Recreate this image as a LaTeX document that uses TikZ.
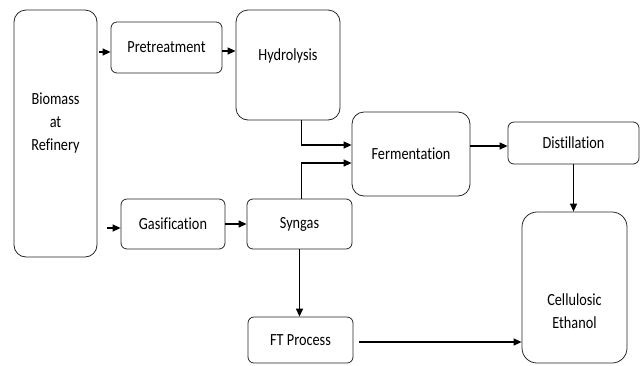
\documentclass[tikz,border=0pt]{standalone}
\usepackage{fontspec}
\setmainfont{Carlito}[FakeStretch=0.84,Ligatures=NoCommon]
\usetikzlibrary{arrows.meta}
\begin{document}
\begin{tikzpicture}[x=1pt,y=-1pt,
  every node/.style={font=\fontsize{17}{23}\selectfont,align=center,inner sep=0pt},
  stage/.style={draw=black!85,line width=0.8pt,rounded corners=6pt},
  tall/.style={stage,rounded corners=12pt},
  arr/.style={line width=1.3pt,-{Triangle[length=8pt,width=7pt]}}]
  \useasboundingbox (0,0) rectangle (644,365);
  % process boxes
  \node[tall,minimum width=83pt,minimum height=247pt] (bio) at (55.5,133.5) {};
  \node at (55.5,123) {Biomass\\at\\Refinery};
  \node[stage,minimum width=111pt,minimum height=51pt] (pre) at (166.5,47.5) {Pretreatment};
  \node[tall,minimum width=104pt,minimum height=110pt] (hyd) at (288,65) {};
  \node at (288,56) {Hydrolysis};
  \node[tall,minimum width=118pt,minimum height=84pt] (fer) at (411,154) {Fermentation};
  \node[stage,minimum width=131pt,minimum height=42pt] (dis) at (573.5,143) {Distillation};
  \node[tall,rounded corners=15pt,minimum width=105pt,minimum height=151pt] (cel) at (574.5,287.5) {};
  \node at (574.5,311) {Cellulosic\\Ethanol};
  \node[stage,minimum width=104pt,minimum height=50pt] (gas) at (173,224) {Gasification};
  \node[stage,minimum width=105pt,minimum height=50pt] (syn) at (299.5,224) {Syngas};
  \node[stage,minimum width=105pt,minimum height=46pt] (ft) at (300.5,340) {FT Process};
  % connectors
  \coordinate (bioA) at (99,52);
  \coordinate (bioB) at (107,228);
  \coordinate (preA) at (222,51);
  \coordinate (ftA) at (359,342);
  \coordinate (tap) at (301,0);
  \draw[arr] (bioA) -- (pre.west |- bioA);
  \draw[arr] (bioB) -- (gas.west |- bioB);
  \draw[arr] (preA) -- (hyd.west |- preA);
  \draw[arr] (gas.east) -- (syn.west);
  \draw[line width=0.8pt] (hyd.south -| tap) -- ++(0,24);
  \draw[arr] ([yshift=9pt]fer.west -| tap) -- ([yshift=9pt]fer.west);
  \draw[line width=0.8pt] (syn.north -| tap) -- ++(0,-37);
  \draw[arr] ([yshift=-9pt]fer.west -| tap) -- ([yshift=-9pt]fer.west);
  \draw[arr] (fer.east |- 0,146) -- (dis.west |- 0,146);
  \draw[arr] (dis.south) -- (dis.south |- cel.north);
  \draw[arr] (syn.south) -- (syn.south |- ft.north);
  \draw[arr] (ftA) -- (cel.west |- ftA);
\end{tikzpicture}
\end{document}
